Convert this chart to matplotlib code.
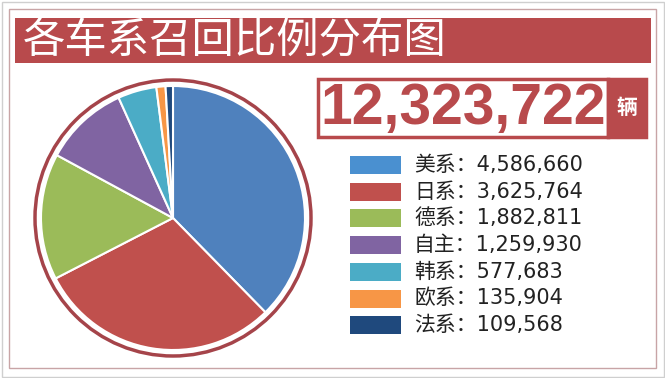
import matplotlib
matplotlib.use("Agg")
import matplotlib.pyplot as plt
from matplotlib.patches import Rectangle, Circle

plt.rcParams['font.family'] = ['DejaVu Sans', 'Noto Sans CJK SC']

title = "各车系召回比例分布图"
total_text = "12,323,722"
unit = "辆"
categories = ["美系", "日系", "德系", "自主", "韩系", "欧系", "法系"]
values = [4586660, 3625764, 1882811, 1259930, 577683, 135904, 109568]
colors = ["#4f81bd", "#c0504d", "#9bbb59", "#8064a2", "#4bacc6", "#f79646", "#1f497d"]
legend_colors = ["#4a90d0", "#c0504d", "#9bbb59", "#8064a2", "#4bacc6", "#f79646", "#1f497d"]

W, H = 665, 378
fig = plt.figure(figsize=(W / 100, H / 100), dpi=100)
fig.patch.set_facecolor("white")

# overlay axes in pixel coordinates (y downwards)
ov = fig.add_axes([0, 0, 1, 1])
ov.set_xlim(0, W)
ov.set_ylim(H, 0)
ov.axis("off")

# frames
ov.add_patch(Rectangle((1.5, 1.5), W - 3, H - 3, fill=False, ec="#cfcfcf", lw=1))
ov.add_patch(Rectangle((9, 9), 647, 359, fill=False, ec="#c8a4a6", lw=1))

# title bar
red = "#b84a4c"
ov.add_patch(Rectangle((15, 18), 636, 45, fc=red, ec="none"))
ov.text(23, 41, title, color="white", fontsize=30.5, va="center", ha="left",
        family=["Noto Sans CJK SC"])

# total box
ov.add_patch(Rectangle((318, 79), 290, 58, fc="white", ec=red, lw=2.5))
ov.add_patch(Rectangle((608, 79), 38, 58, fc=red, ec=red, lw=2.5))
ov.text(463, 109, total_text, color=red, fontsize=41, fontweight="bold",
        family=["Liberation Sans"], ha="center", va="center")
ov.text(627, 108, unit, color="white", fontsize=15, fontweight="bold",
        family=["Noto Sans CJK SC"], ha="center", va="center")

# legend
y0 = 165
dy = 26.7
for i, (cat, val, col) in enumerate(zip(categories, values, legend_colors)):
    y = y0 + i * dy
    ov.add_patch(Rectangle((350, y - 9), 51, 18, fc=col, ec="none"))
    ov.text(414, y, f"{cat}：{val:,}", fontsize=15, color="#222222",
            ha="left", va="center")

# pie axes
cx, cy, half = 173, 218, 145
pax = fig.add_axes([(cx - half) / W, 1 - (cy + half) / H, 2 * half / W, 2 * half / H])
pax.set_xlim(-half, half)
pax.set_ylim(-half, half)
pax.set_aspect("equal")
pax.axis("off")
pax.pie(values, colors=colors, startangle=90, counterclock=False, radius=132,
        center=(0, 0), wedgeprops=dict(edgecolor="white", linewidth=1.5))
pax.set_xlim(-half, half)
pax.set_ylim(-half, half)
pax.add_patch(Circle((0, 0), 138, fill=False, ec="#a5444a", lw=2.5))

fig.savefig("out.png", dpi=100, facecolor="white")
